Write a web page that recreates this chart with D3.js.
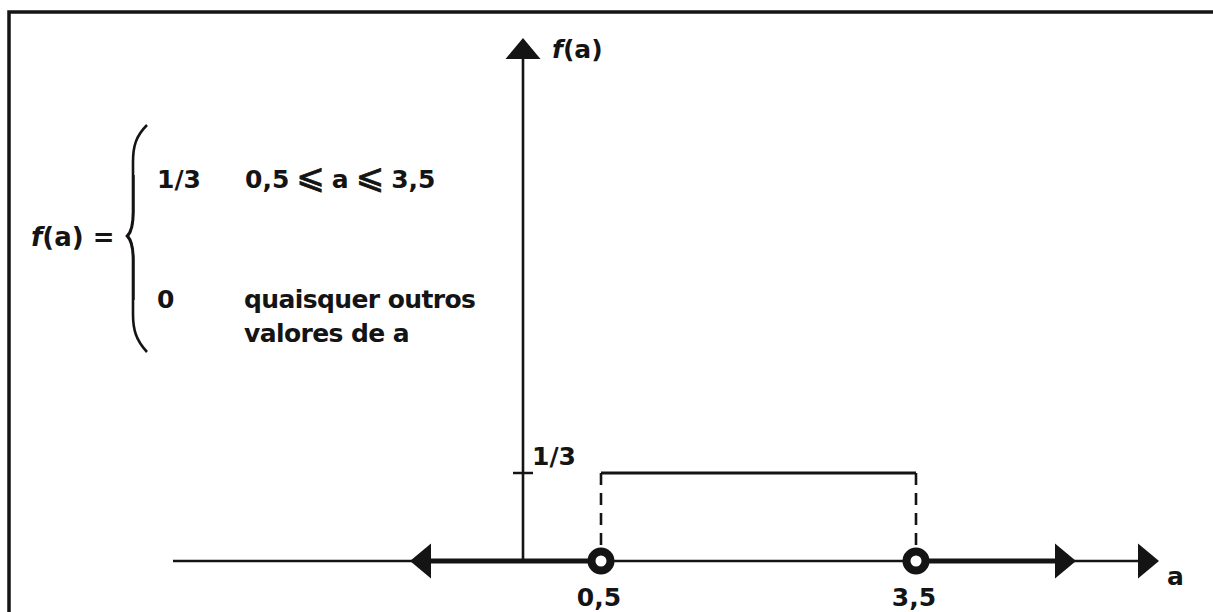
<!DOCTYPE html>
<html>
<head>
<meta charset="utf-8">
<script src="https://cdn.jsdelivr.net/npm/d3@7"></script>
<style>
    body { margin: 0; background: #fff; }
    text { font-family: "DejaVu Sans", sans-serif; font-weight: bold; fill: #141414; }
</style>
</head>
<body>
<script>
//  Define chart width and height
var w = 1213;
var h = 612;

//  Data: uniform density on [0.5, 3.5]
var intervalBounds = [0.5, 3.5];       //  a where the density starts / stops
var densityLevels = [0, 1 / 3];        //  f(a) outside / inside the interval
var xTickLabels = ["0,5", "3,5"];
var yTickLabels = ["1/3"];
var caseValues = ["1/3", "0"];
var caseConditions = [["0,5", "\u2A7D", "a", "\u2A7D", "3,5"], ["quaisquer outros", "valores de a"]];

//  Layout (pixels)
var originX = 523;      //  where the vertical axis stands
var axisTop = 38;       //  tip of the f(a) arrow
var ink = "#141414";
var fs = 25;            //  font size of every label

//  Scales
var xScale = d3.scaleLinear()
    .domain(intervalBounds)
    .range([601, 916]);

var yScale = d3.scaleLinear()
    .domain(densityLevels)
    .range([561, 473]);

var y0 = yScale(0);

var svg = d3.select("body")
    .append("svg")
    .attr("width", w)
    .attr("height", h);

//  Frame (only left and top edges show in the scan)
svg.append("path")
    .attr("d", "M9," + h + " L9,12 L" + w + ",12")
    .attr("fill", "none")
    .attr("stroke", ink)
    .attr("stroke-width", 3.5);

//  Triangle arrowhead helper: tip at (x, y), pointing in direction dir
function arrow(x, y, dir) {
    var len = 21, half = 17.5, pts;
    if (dir === "up") pts = [[x, y], [x - half, y + len], [x + half, y + len]];
    if (dir === "left") pts = [[x, y], [x + len, y - half], [x + len, y + half]];
    if (dir === "right") pts = [[x, y], [x - len, y - half], [x - len, y + half]];
    svg.append("path")
        .attr("d", "M" + pts.join("L") + "Z")
        .attr("fill", ink);
}

//  Vertical axis f(a)
svg.append("line")
    .attr("x1", originX).attr("x2", originX)
    .attr("y1", y0).attr("y2", axisTop + 18)
    .attr("stroke", ink)
    .attr("stroke-width", 2.6);
arrow(originX, axisTop, "up");

svg.append("text")
    .attr("x", 552)
    .attr("y", 58)
    .attr("font-size", fs)
    .html('<tspan font-style="italic">f</tspan>(a)');

//  Horizontal axis: thin outer parts
svg.append("line")
    .attr("x1", 173).attr("x2", 412)
    .attr("y1", y0).attr("y2", y0)
    .attr("stroke", ink).attr("stroke-width", 2.5);
svg.append("line")
    .attr("x1", 1072).attr("x2", 1140)
    .attr("y1", y0).attr("y2", y0)
    .attr("stroke", ink).attr("stroke-width", 2.5);

//  f(a) = 0 outside the interval: thick segments
svg.append("line")
    .attr("x1", 428).attr("x2", xScale(intervalBounds[0]))
    .attr("y1", y0).attr("y2", y0)
    .attr("stroke", ink).attr("stroke-width", 5);
svg.append("line")
    .attr("x1", xScale(intervalBounds[1])).attr("x2", 1058)
    .attr("y1", y0).attr("y2", y0)
    .attr("stroke", ink).attr("stroke-width", 5);
//  thin axis between the bounds
svg.append("line")
    .attr("x1", xScale(intervalBounds[0])).attr("x2", xScale(intervalBounds[1]))
    .attr("y1", y0).attr("y2", y0)
    .attr("stroke", ink).attr("stroke-width", 2.6);

arrow(410, y0, "left");
arrow(1076, y0, "right");
arrow(1159, y0, "right");

svg.append("text")
    .attr("x", 1167)
    .attr("y", 585)
    .attr("font-size", fs)
    .text("a");

//  Density level f(a) = 1/3 on the interval
svg.append("path")
    .attr("d", d3.line()(intervalBounds.map(function(d) {
        return [xScale(d), yScale(densityLevels[1])];
    })))
    .attr("fill", "none")
    .attr("stroke", ink)
    .attr("stroke-width", 2.8);

//  Dashed drops from the level to the bounds
svg.selectAll(".drop")
    .data(intervalBounds)
    .enter()
    .append("line")
    .attr("class", "drop")
    .attr("x1", function(d) { return xScale(d); })
    .attr("x2", function(d) { return xScale(d); })
    .attr("y1", yScale(densityLevels[1]))
    .attr("y2", y0 - 12)
    .attr("stroke", ink)
    .attr("stroke-width", 2.6)
    .attr("stroke-dasharray", "12,8");

//  Open circles at the bounds
svg.selectAll(".bound")
    .data(intervalBounds)
    .enter()
    .append("circle")
    .attr("class", "bound")
    .attr("cx", function(d) { return xScale(d); })
    .attr("cy", y0)
    .attr("r", 9.5)
    .attr("fill", "#fff")
    .attr("stroke", ink)
    .attr("stroke-width", 8);

//  Tick labels under the bounds
svg.selectAll(".xlab")
    .data(intervalBounds)
    .enter()
    .append("text")
    .attr("class", "xlab")
    .attr("x", function(d) { return xScale(d) - 2; })
    .attr("y", 606)
    .attr("text-anchor", "middle")
    .attr("font-size", fs)
    .text(function(d, i) { return xTickLabels[i]; });

//  Tick 1/3 on the vertical axis
svg.append("line")
    .attr("x1", originX - 10).attr("x2", originX + 10)
    .attr("y1", yScale(densityLevels[1])).attr("y2", yScale(densityLevels[1]))
    .attr("stroke", ink).attr("stroke-width", 2.5);
svg.append("text")
    .attr("x", originX + 9)
    .attr("y", yScale(densityLevels[1]) - 8)
    .attr("font-size", fs)
    .text(yTickLabels[0]);

//  Formula on the left
svg.append("text")
    .attr("x", 31)
    .attr("y", 246)
    .attr("font-size", fs + 1)
    .html('<tspan font-style="italic">f</tspan>(a) =');

//  Curly brace (a bit heavier in the middle)
svg.append("path")
    .attr("d", "M147,125 C136,136 133,146 133,162 L133,212 C133,226 131,232 127,236" +
               " C131,240 133,246 133,260 L133,314 C133,330 136,340 147,352")
    .attr("fill", "none")
    .attr("stroke", ink)
    .attr("stroke-width", 2.6);
svg.append("path")
    .attr("d", "M134,175 L134,212 C134,226 132,232 128.5,236 C132,240 134,246 134,260 L134,300")
    .attr("fill", "none")
    .attr("stroke", ink)
    .attr("stroke-width", 1.4);

var caseY = [188, 308];
svg.selectAll(".caseval")
    .data(caseValues)
    .enter()
    .append("text")
    .attr("class", "caseval")
    .attr("x", 157)
    .attr("y", function(d, i) { return caseY[i]; })
    .attr("font-size", fs)
    .text(function(d) { return d; });

//  First case: inequality, with the big slanted signs
var cond = svg.append("text")
    .attr("x", 245)
    .attr("y", caseY[0])
    .attr("font-size", fs);
caseConditions[0].forEach(function(part, j) {
    var isSign = part === "\u2A7D";
    cond.append("tspan")
        .attr("dx", j === 0 ? 0 : 7)
        .attr("font-size", isSign ? 34 : fs)
        .attr("font-weight", isSign ? "normal" : "bold")
        .attr("stroke", isSign ? ink : "none")
        .attr("stroke-width", 0.8)
        .text(part);
});

//  Second case: two lines of words
caseConditions[1].forEach(function(line, j) {
    svg.append("text")
        .attr("x", 244)
        .attr("y", caseY[1] + j * 34)
        .attr("font-size", fs)
        .attr("letter-spacing", -0.6)
        .text(line);
});
</script>
</body>
</html>
